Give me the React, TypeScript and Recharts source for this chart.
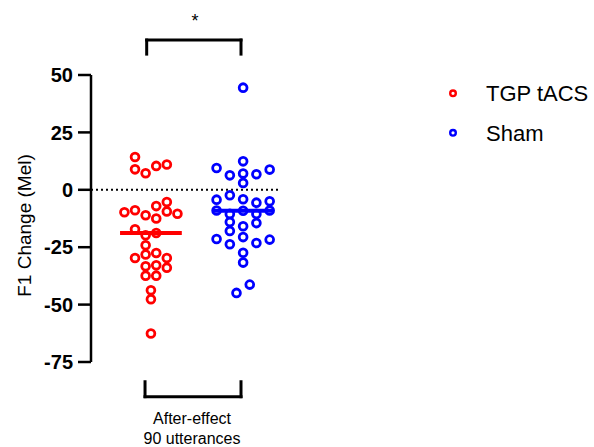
import React from 'react';
import { ScatterChart, Scatter, XAxis, YAxis, ReferenceLine } from 'recharts';

const FONT = '"Liberation Sans", Arial, Helvetica, sans-serif';

const categories = ['TGP tACS', 'Sham'];
const colors = ['#ff0000', '#0000ff'];
const groupLabel = ['After-effect', '90 utterances'];
const yTicks = [-75, -50, -25, 0, 25, 50];
const significance = '*';

// F1 change values (Mel) and their beeswarm lane (column) indices
const tgpValues = [
  14.3, 8.9, 7.2, 10.4, 11.0, -5.3, -7.1, -9.8, -8.9, -11.1, -12.5, -9.4, -10.4, -17.2, -19.8,
  -18.8, -24.2, -29.7, -28.2, -27.5, -29.7, -33.3, -32.9, -33.9, -37.4, -37.4, -43.8, -47.7, -62.6,
];
const tgpLanes = [
  -1.5, -1.5, -0.5, 0.5, 1.5, 1.5, 0.5, -2.5, -1.5, -0.5, 0.5, 1.5, 2.5, -1.5, -0.5, 0.5, -0.5,
  -1.5, -0.5, 0.5, 1.5, -0.5, 0.5, 1.5, -0.5, 0.5, 0, 0, 0,
];
const shamValues = [
  44.5, 12.4, 9.5, 6.3, 7.1, 6.8, 8.8, 3.0, -2.4, -4.3, -4.1, -5.6, -5.0, -9.0, -10.5, -9.1,
  -10.5, -9.0, -14.0, -15.9, -14.5, -17.9, -21.4, -23.7, -20.6, -23.2, -21.7, -27.4, -31.7,
  -41.3, -44.9,
];
const shamLanes = [
  0, 0, -2, -1, 0, 1, 2, 0, -1, -2, 0, 1, 2, -2, -1, 0, 1, 2, -1, 0, 1, -1, -2, -1, 0, 1, 2, 0,
  0, 0.5, -0.5,
];

const laneSpacing = [0.115, 0.144];
const medianHalfWidth = 0.335;

const median = (arr: number[]) => {
  const s = [...arr].sort((a, b) => a - b);
  const m = Math.floor(s.length / 2);
  return s.length % 2 ? s[m] : (s[m - 1] + s[m]) / 2;
};

const buildPoints = (values: number[], lanes: number[], group: number) =>
  values.map((v, i) => ({ x: group + 1 + lanes[i] * laneSpacing[group], y: v }));

const tgpPoints = buildPoints(tgpValues, tgpLanes, 0);
const shamPoints = buildPoints(shamValues, shamLanes, 1);
const medians = [median(tgpValues), median(shamValues)];

const ring = (color: string) => (props: any) => (
  <circle cx={props.cx} cy={props.cy} r={3.9} fill="none" stroke={color} strokeWidth={2.8} />
);

const bracketStyle = { stroke: '#000', strokeWidth: 3, strokeLinecap: 'square' as const };

export default function App() {
  return (
    <div style={{ position: 'absolute', left: 0, top: 0, width: 594, height: 447, background: '#fff', fontFamily: FONT }}>
      <ScatterChart width={594} height={447} margin={{ top: 75, right: 314, bottom: 85, left: 0 }}>
        <XAxis type="number" dataKey="x" domain={[0.35, 2.4]} hide />
        <YAxis
          type="number"
          dataKey="y"
          width={91}
          domain={[-75, 50]}
          ticks={yTicks}
          interval={0}
          tickSize={13}
          tickMargin={5}
          axisLine={{ stroke: '#000', strokeWidth: 2.5 }}
          tickLine={{ stroke: '#000', strokeWidth: 2.5 }}
          tick={{ fill: '#000', fontSize: 20, fontWeight: 'bold', fontFamily: FONT }}
          label={{
            content: (p: any) => {
              const vb = p.viewBox || { x: 0, y: 75, height: 287 };
              const cx = vb.x + 24;
              const cy = vb.y + vb.height / 2 + 7;
              return (
                <text
                  x={cx}
                  y={cy}
                  transform={`rotate(-90 ${cx} ${cy})`}
                  textAnchor="middle"
                  dominantBaseline="central"
                  fontSize={19}
                  fontFamily={FONT}
                  fill="#000"
                >
                  F1 Change (Mel)
                </text>
              );
            },
          }}
        />
        <ReferenceLine y={0} stroke="#000" strokeWidth={2} strokeDasharray="2 3" />
        {medians.map((m, g) => (
          <ReferenceLine
            key={`med${g}`}
            segment={[
              { x: g + 1 - medianHalfWidth, y: m },
              { x: g + 1 + medianHalfWidth, y: m },
            ]}
            stroke={colors[g]}
            strokeWidth={4}
            ifOverflow="visible"
          />
        ))}
        {/* significance bracket */}
        <ReferenceLine segment={[{ x: 0.954, y: 65.2 }, { x: 1.977, y: 65.2 }]} {...bracketStyle} ifOverflow="visible" />
        <ReferenceLine segment={[{ x: 0.954, y: 65.2 }, { x: 0.954, y: 59.1 }]} {...bracketStyle} ifOverflow="visible" />
        <ReferenceLine segment={[{ x: 1.977, y: 65.2 }, { x: 1.977, y: 59.1 }]} {...bracketStyle} ifOverflow="visible" />
        {/* group bracket */}
        <ReferenceLine segment={[{ x: 0.936, y: -90.1 }, { x: 1.977, y: -90.1 }]} {...bracketStyle} ifOverflow="visible" />
        <ReferenceLine segment={[{ x: 0.936, y: -90.1 }, { x: 0.936, y: -83.6 }]} {...bracketStyle} ifOverflow="visible" />
        <ReferenceLine segment={[{ x: 1.977, y: -90.1 }, { x: 1.977, y: -83.6 }]} {...bracketStyle} ifOverflow="visible" />
        <Scatter name={categories[0]} data={tgpPoints} shape={ring(colors[0])} isAnimationActive={false} />
        <Scatter name={categories[1]} data={shamPoints} shape={ring(colors[1])} isAnimationActive={false} />
      </ScatterChart>
      <svg
        width={594}
        height={447}
        style={{ position: 'absolute', left: 0, top: 0, pointerEvents: 'none' }}
        fontFamily={FONT}
      >
        <text x={195} y={27} textAnchor="middle" fontSize={18} fill="#000">
          {significance}
        </text>
        <text x={192} y={424} textAnchor="middle" fontSize={16} fill="#000">
          {groupLabel[0]}
        </text>
        <text x={192} y={444} textAnchor="middle" fontSize={16} fill="#000">
          {groupLabel[1]}
        </text>
        {categories.map((c, i) => (
          <g key={c}>
            <circle cx={453} cy={93.3 + i * 39.5} r={2.8} fill="none" stroke={colors[i]} strokeWidth={2.4} />
            <text x={486} y={101 + i * 39.5} fontSize={22} fill="#000">
              {c}
            </text>
          </g>
        ))}
      </svg>
    </div>
  );
}
